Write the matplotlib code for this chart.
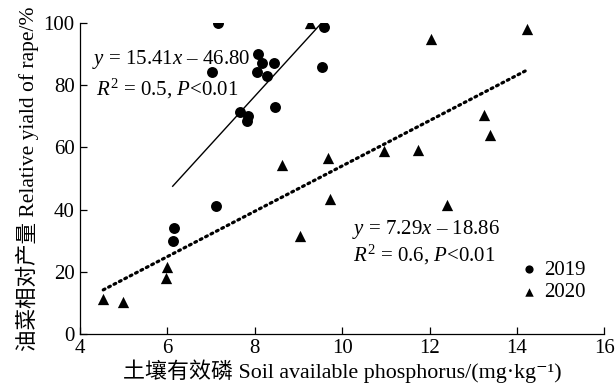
import numpy as np
import matplotlib
matplotlib.use("Agg")
import matplotlib.pyplot as plt

plt.rcParams['font.family'] = ['Liberation Serif', 'Noto Sans CJK SC', 'DejaVu Serif']
plt.rcParams['mathtext.fontset'] = 'custom'
plt.rcParams['mathtext.rm'] = 'Liberation Serif'
plt.rcParams['mathtext.it'] = 'Liberation Serif:italic'

# 2019 points
x2019 = [7.15, 7.01, 8.08, 8.17, 8.45, 8.06, 8.29, 7.67, 7.84, 7.82, 8.46, 9.59, 9.53, 7.10, 6.14, 6.12]
y2019 = [100.0, 84.3, 90.0, 87.2, 87.2, 84.3, 82.9, 71.5, 70.1, 68.6, 72.9, 98.7, 85.8, 41.3, 34.1, 29.8]
# 2020 points
x2020 = [9.27, 12.03, 14.23, 13.24, 13.39, 11.73, 10.95, 9.68, 8.62, 9.72, 9.03, 6.00, 5.97, 4.53, 4.98, 12.39]
y2020 = [100.0, 95.0, 98.0, 70.5, 63.9, 59.3, 58.8, 56.7, 54.2, 43.4, 31.6, 21.4, 17.9, 11.3, 10.2, 41.5]

# fitted lines
fit2019 = (15.41, -46.80)
fit2020 = (7.29, -18.86)
range2019 = (6.12, 9.61)
range2020 = (4.53, 14.2)

xticks = [4, 6, 8, 10, 12, 14, 16]
yticks = [0, 20, 40, 60, 80, 100]

fig = plt.figure(figsize=(6.16, 3.91), dpi=100)
ax = fig.add_axes([0.130, 0.146, 0.851, 0.795])

ax.scatter(x2019, y2019, marker='o', s=62, color='black', linewidths=0, label='2019', zorder=3)
ax.scatter(x2020, y2020, marker='^', s=66, color='black', linewidths=0, label='2020', zorder=3)

xs = np.array(range2019)
ax.plot(xs, fit2019[0] * xs + fit2019[1], color='black', lw=1.0)
xs = np.array(range2020)
ax.plot(xs, fit2020[0] * xs + fit2020[1], color='black', lw=2.3,
        linestyle=(0, (0.6, 1.3)), dash_capstyle='round')

fs = 15
ax.text(4.27, 86.8, r'$y$ = 15.41$x$ – 46.80', fontsize=fs, ha='left', va='baseline')
ax.text(4.37, 76.8, r'$R^2$ = 0.5, $P$<0.01', fontsize=fs, ha='left', va='baseline')
ax.text(10.22, 32.2, r'$y$ = 7.29$x$ – 18.86', fontsize=fs, ha='left', va='baseline')
ax.text(10.25, 23.5, r'$R^2$ = 0.6, $P$<0.01', fontsize=fs, ha='left', va='baseline')

leg = ax.legend(loc='center left', bbox_to_anchor=(0.825, 0.17), frameon=False, fontsize=fs,
                handlelength=0.8, handletextpad=0.3, labelspacing=0.15, markerscale=0.75,
                borderaxespad=0)

ax.set_xlim(4, 16)
ax.set_ylim(0, 100)
ax.set_xticks(xticks)
ax.set_yticks(yticks)
ax.spines['top'].set_visible(False)
ax.spines['right'].set_visible(False)
for s in ['left', 'bottom']:
    ax.spines[s].set_linewidth(0.9)
ax.tick_params(direction='in', length=5, width=0.9, labelsize=fs, pad=4)

ax.set_xlabel('土壤有效磷 Soil available phosphorus/(mg·kg⁻¹)', fontsize=15.8, labelpad=1)
ax.set_ylabel('油菜相对产量 Relative yiald of rape/%', fontsize=15.5, labelpad=3)

fig.savefig('out.png', dpi=100)
